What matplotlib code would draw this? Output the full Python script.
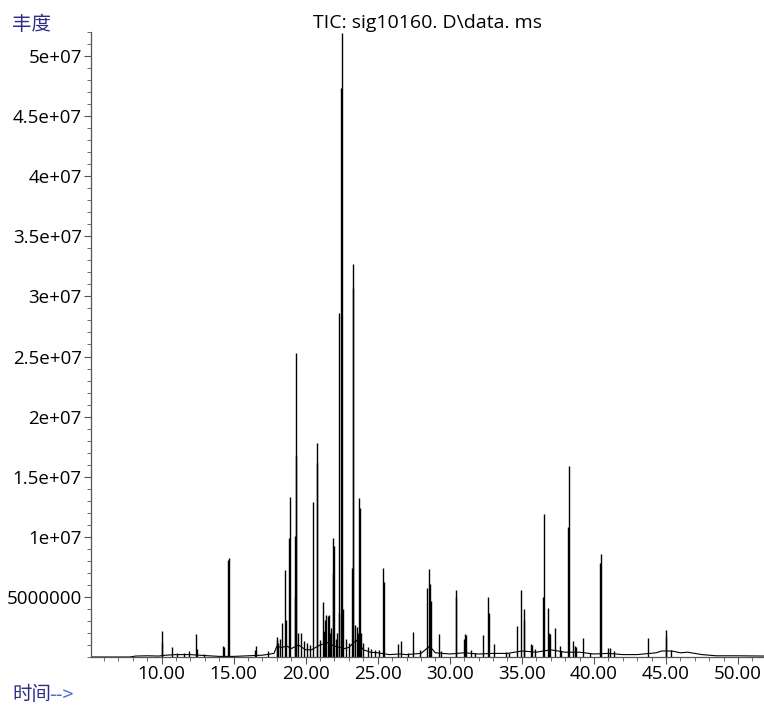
import matplotlib
matplotlib.use("Agg")
import matplotlib.pyplot as plt
from matplotlib.ticker import MultipleLocator
import numpy as np

plt.rcParams["font.family"] = ["Open Sans", "Noto Sans CJK SC", "DejaVu Sans"]

# peak apexes (retention time in min, abundance)
peak_rt = [10.00, 10.05, 10.76, 11.10, 11.53, 11.89, 12.38, 12.45, 12.96, 14.28,
           14.34, 14.62, 14.67, 16.45, 16.52, 17.37, 17.98, 18.02, 18.10, 18.20,
           18.35, 18.56, 18.62, 18.87, 18.90, 19.24, 19.28, 19.30, 19.33, 19.50,
           19.71, 19.85, 20.08, 20.30, 20.52, 20.79, 20.82, 20.98, 21.19, 21.25,
           21.35, 21.44, 21.52, 21.59, 21.66, 21.74, 21.90, 21.93, 22.00, 22.09,
           22.20, 22.30, 22.34, 22.44, 22.49, 22.56, 22.83, 23.00, 23.18, 23.26,
           23.28, 23.41, 23.53, 23.62, 23.67, 23.76, 23.85, 23.95, 24.33, 24.50,
           24.80, 25.10, 25.35, 25.42, 26.41, 26.58, 27.07, 27.45, 27.92, 28.45,
           28.54, 28.66, 28.70, 29.24, 29.38, 30.40, 30.44, 30.97, 31.06, 31.11,
           31.50, 31.73, 32.27, 32.68, 32.73, 33.07, 33.87, 34.10, 34.63, 34.95,
           35.13, 35.18, 35.60, 35.67, 35.90, 36.47, 36.52, 36.78, 36.87, 36.94,
           37.30, 37.62, 37.75, 38.17, 38.26, 38.55, 38.72, 38.79, 39.21, 39.71,
           40.43, 40.48, 40.98, 41.10, 41.40, 43.76, 44.98, 45.03, 45.38]
peak_abund = [1.25e6, 2.2e6, 0.86e6, 0.35e6, 0.33e6, 0.5e6, 1.9e6, 0.7e6, 0.25e6, 0.9e6,
              0.85e6, 8.07e6, 8.2e6, 0.6e6, 0.94e6, 0.52e6, 1.7e6, 1.4e6, 1.2e6, 1.5e6,
              2.8e6, 7.2e6, 3.1e6, 9.9e6, 13.3e6, 5.0e6, 10.1e6, 16.7e6, 25.3e6, 2.0e6,
              2.0e6, 1.3e6, 1.2e6, 1.0e6, 12.9e6, 16.1e6, 17.8e6, 1.4e6, 4.6e6, 2.2e6,
              3.1e6, 3.5e6, 3.4e6, 3.5e6, 2.0e6, 2.4e6, 7.0e6, 9.9e6, 9.2e6, 1.5e6,
              2.0e6, 3.7e6, 28.6e6, 47.3e6, 51.9e6, 4.0e6, 1.5e6, 1.2e6, 7.4e6, 30.7e6,
              32.7e6, 2.7e6, 2.5e6, 2.0e6, 13.2e6, 12.4e6, 2.0e6, 1.2e6, 0.86e6, 0.7e6,
              0.6e6, 0.55e6, 7.4e6, 6.2e6, 1.05e6, 1.3e6, 0.3e6, 2.05e6, 0.6e6, 5.7e6,
              7.3e6, 6.1e6, 4.7e6, 1.9e6, 0.5e6, 5.6e6, 5.0e6, 1.5e6, 1.9e6, 1.85e6,
              0.6e6, 0.3e6, 1.8e6, 5.0e6, 3.7e6, 1.1e6, 0.45e6, 0.35e6, 2.6e6, 5.6e6,
              3.1e6, 4.0e6, 1.1e6, 1.0e6, 0.65e6, 5.0e6, 11.9e6, 4.05e6, 2.0e6, 1.9e6,
              2.4e6, 0.9e6, 0.5e6, 10.8e6, 15.9e6, 1.3e6, 0.9e6, 0.8e6, 1.6e6, 0.3e6,
              7.8e6, 8.6e6, 0.72e6, 0.72e6, 0.5e6, 1.6e6, 2.25e6, 1.7e6, 0.58e6]

# baseline of the total ion current between peaks
base_rt = [5.1, 7.8, 8.2, 9.0, 9.8, 10.3, 11.0, 12.0, 13.0, 14.0, 15.0, 16.0, 17.0,
           17.8, 18.0, 18.3, 18.7, 19.0, 19.5, 20.0, 20.4, 21.0, 21.5, 22.0, 22.7,
           23.0, 23.5, 24.0, 24.5, 25.0, 25.8, 26.5, 27.0, 28.0, 28.6, 29.0, 30.0,
           31.0, 32.0, 33.0, 34.0, 35.0, 36.0, 37.0, 38.0, 39.0, 40.0, 41.0, 42.0,
           43.0, 44.3, 44.7, 45.4, 46.0, 46.5, 47.0, 47.5, 48.5, 50.0, 51.8]
base_abund = [0, 0, 0.08e6, 0.1e6, 0.08e6, 0.15e6, 0.2e6, 0.2e6, 0.12e6, 0.05e6, 0.05e6,
              0.1e6, 0.15e6, 0.3e6, 0.9e6, 0.8e6, 0.9e6, 0.7e6, 1.0e6, 0.6e6, 0.6e6,
              1.0e6, 1.2e6, 0.9e6, 0.7e6, 0.8e6, 1.4e6, 0.6e6, 0.4e6, 0.35e6, 0.2e6,
              0.25e6, 0.2e6, 0.3e6, 0.9e6, 0.35e6, 0.25e6, 0.35e6, 0.25e6, 0.3e6, 0.3e6,
              0.5e6, 0.4e6, 0.6e6, 0.4e6, 0.4e6, 0.25e6, 0.3e6, 0.2e6, 0.2e6, 0.35e6,
              0.5e6, 0.5e6, 0.35e6, 0.4e6, 0.3e6, 0.2e6, 0.1e6, 0.1e6, 0.08e6]

x_ticks = [10, 15, 20, 25, 30, 35, 40, 45, 50]
x_tick_labels = ["10.00", "15.00", "20.00", "25.00", "30.00", "35.00", "40.00", "45.00", "50.00"]
y_ticks = [5e6, 1e7, 1.5e7, 2e7, 2.5e7, 3e7, 3.5e7, 4e7, 4.5e7, 5e7]
y_tick_labels = ["5000000", "1e+07", "1.5e+07", "2e+07", "2.5e+07", "3e+07",
                 "3.5e+07", "4e+07", "4.5e+07", "5e+07"]

fig = plt.figure(figsize=(7.64, 7.06), dpi=100)
ax = fig.add_axes([0.119, 0.0694, 0.881, 0.8853])

ax.plot(base_rt, base_abund, color="black", linewidth=0.8)
ax.vlines(peak_rt, 0, peak_abund, color="black", linewidth=1.0)

ax.set_xlim(5.1, 51.8)
ax.set_ylim(0, 5.2e7)
ax.set_xticks(x_ticks)
ax.set_xticklabels(x_tick_labels)
ax.set_yticks(y_ticks)
ax.set_yticklabels(y_tick_labels)
ax.xaxis.set_minor_locator(MultipleLocator(1))
ax.yaxis.set_minor_locator(MultipleLocator(1e6))
ax.tick_params(axis="both", which="major", labelsize=13.5, length=5, width=0.8, color="#555555")
ax.tick_params(axis="both", which="minor", length=3, width=0.6, color="#555555")
ax.tick_params(axis="x", pad=0.5)
ax.tick_params(axis="y", pad=1.5)

for side in ("top", "right"):
    ax.spines[side].set_visible(False)
for side in ("left", "bottom"):
    ax.spines[side].set_color("#555555")
    ax.spines[side].set_linewidth(0.9)

ax.set_title("TIC: sig10160. D\\data. ms", fontsize=14, pad=3)

cjk = ["Noto Sans CJK SC", "DejaVu Sans"]
fig.text(0.016, 1 - 25 / 706, "丰度", color="#2e2e8a", fontsize=14,
         family=cjk, ha="left", va="center")
fig.text(0.016, 1 - 695 / 706, "时间", color="#2e2e8a", fontsize=14,
         family=cjk, ha="left", va="center")
fig.text(0.0645, 1 - 695 / 706, "-->", color="#4a6cd4", fontsize=14,
         family=cjk, ha="left", va="center")

fig.savefig("out.png", dpi=100)
